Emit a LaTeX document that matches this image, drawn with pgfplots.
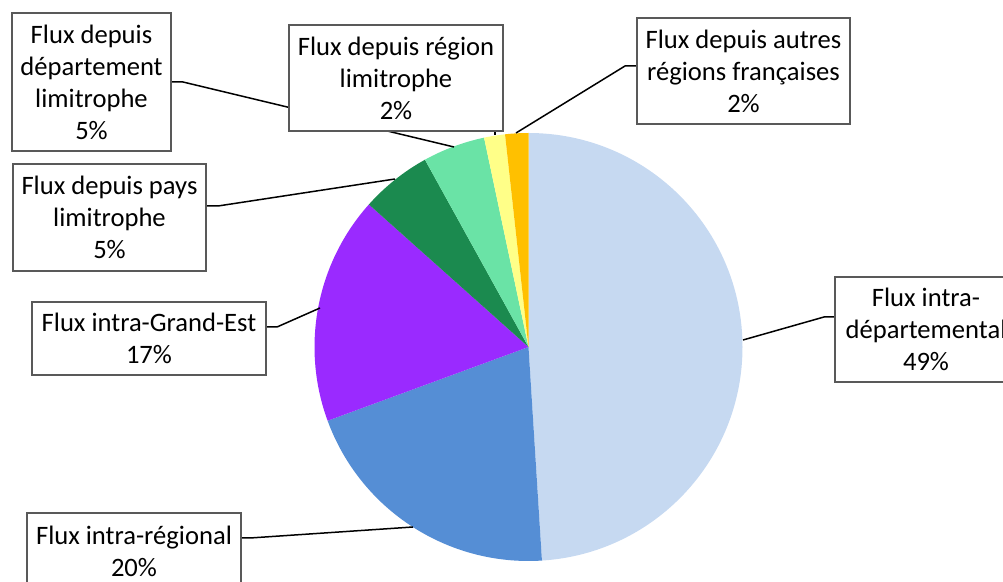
\documentclass[border=0pt]{standalone}
\usepackage{pgfplots}
\pgfplotsset{compat=1.18}
\usepackage{pgfplotstable}
\usepackage{fontspec}
\setmainfont{Carlito}

\definecolor{cIntraDep}{HTML}{C6D9F1}
\definecolor{cRegional}{HTML}{558ED5}
\definecolor{cGrandEst}{HTML}{9A2AFF}
\definecolor{cPays}{HTML}{1B8A4F}
\definecolor{cDept}{HTML}{6AE3A6}
\definecolor{cRegion}{HTML}{FFFF88}
\definecolor{cAutres}{HTML}{FFC000}
\definecolor{boxline}{HTML}{595959}

% parts of the pie, clockwise from the top, in percent
\pgfplotstableread{
value color
49.0  cIntraDep
20.4  cRegional
17.2  cGrandEst
5.36  cPays
4.71  cDept
1.58  cRegion
1.75  cAutres
}\slices

\begin{document}
\begin{tikzpicture}[
  lbl/.style={draw=boxline, line width=0.75pt, fill=white, align=center,
    inner sep=0pt, font=\fontsize{13.3}{16}\selectfont},
  lead/.style={black, line width=0.75pt},
]
\path[use as bounding box] (0,0) rectangle (501.5pt,291pt);
\clip (0,0) rectangle (501.5pt,291pt);
\begin{axis}[
  at={(0,0)}, anchor=south west,
  scale only axis, width=501.5pt, height=291pt,
  xmin=0, xmax=1003, ymin=0, ymax=582, y dir=reverse,
  hide axis, clip=false,
]
% wedges
\xdef\angA{90}
\pgfplotsinvokeforeach{0,...,6}{
  \pgfplotstablegetelem{#1}{value}\of\slices \let\sliceval\pgfplotsretval
  \pgfplotstablegetelem{#1}{color}\of\slices \let\slicecol\pgfplotsretval
  \pgfmathsetmacro\angB{\angA-3.6*\sliceval}
  \edef\dowedge{\noexpand\fill[\slicecol] (axis cs:528.5,347) -- ++(\angA:107pt)
    arc[start angle=\angA, end angle=\angB, radius=107pt] -- cycle;}
  \dowedge
  \xdef\angA{\angB}
}
% leader lines
\draw[lead] (axis cs:171,82) -- (axis cs:183,82) -- (axis cs:454,147);
\draw[lead] (axis cs:495,131) -- (axis cs:495,135);
\draw[lead] (axis cs:637,66) -- (axis cs:625,66) -- (axis cs:516,133);
\draw[lead] (axis cs:206,206) -- (axis cs:218,206) -- (axis cs:395,179);
\draw[lead] (axis cs:266,327) -- (axis cs:277,327) -- (axis cs:320,308);
\draw[lead] (axis cs:241,538) -- (axis cs:250,538) -- (axis cs:413,527);
\draw[lead] (axis cs:835,317) -- (axis cs:824,317) -- (axis cs:743,340);
% labels
\node[lbl, minimum width=79.5pt, minimum height=69pt] at (axis cs:91.5,82)
  {Flux depuis\\département\\limitrophe\\5\%};
\node[lbl, minimum width=107pt, minimum height=53pt] at (axis cs:396,78)
  {Flux depuis région\\limitrophe\\2\%};
\node[lbl, minimum width=106.5pt, minimum height=53pt] at (axis cs:743.5,71)
  {Flux depuis autres\\régions françaises\\2\%};
\node[lbl, minimum width=96.5pt, minimum height=53.5pt] at (axis cs:109.5,217.5)
  {Flux depuis pays\\limitrophe\\5\%};
\node[lbl, minimum width=117pt, minimum height=36.5pt] at (axis cs:149,338.5)
  {Flux intra-Grand-Est\\17\%};
\node[lbl, minimum width=107pt, minimum height=38pt] at (axis cs:134,551)
  {Flux intra-régional\\20\%};
\node[lbl, minimum width=91pt, minimum height=52.5pt] at (axis cs:926,329.5)
  {Flux intra-\\départemental\\49\%};
\end{axis}
\end{tikzpicture}
\end{document}
